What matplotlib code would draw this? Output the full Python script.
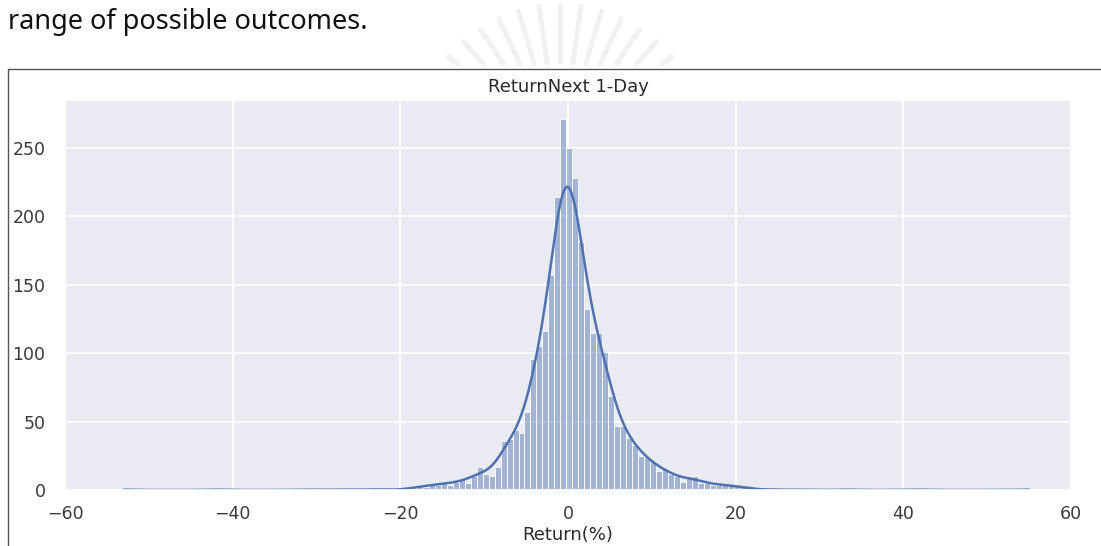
import numpy as np
import matplotlib
matplotlib.use("Agg")
import matplotlib.pyplot as plt
import seaborn as sns
from matplotlib.lines import Line2D

# histogram: counts per bin, bins 0.714 wide
bin_width = 0.714
first_edge = -19.47
counts = [1, 1, 4, 2, 4, 4, 5, 4, 6, 8, 5, 10, 17, 12, 10, 17, 36, 37, 44, 42,
          57, 96, 105, 116, 157, 214, 271, 250, 228, 181, 132, 115, 115, 101, 69,
          47, 47, 38, 33, 25, 24, 21, 14, 16, 12, 10, 6, 10, 10, 5, 5, 4, 4, 4,
          3, 3, 2, 1, 1]
# single far-out observations (only visible through the kde tail)
tail_returns = [-53.0, -41.6, -31.2, -27.4, -24.1, -22.3, 24.6, 27.9, 33.5, 41.2, 55.0]

x_ticks = [-60, -40, -20, 0, 20, 40, 60]
y_ticks = [0, 50, 100, 150, 200, 250]

sns.set_theme(style="darkgrid")

centers = first_edge + bin_width * (np.arange(len(counts)) + 0.5)
samples = np.concatenate([np.repeat(centers, counts), tail_returns])
k_lo = int(np.floor((min(tail_returns) - first_edge) / bin_width))
k_hi = int(np.ceil((max(tail_returns) - first_edge) / bin_width))
edges = first_edge + bin_width * np.arange(k_lo, k_hi + 1)

W, H = 1101, 546
fig = plt.figure(figsize=(W / 100, H / 100), dpi=100)
fig.patch.set_facecolor("white")

# faint watermark behind the page text, kept above the chart frame
for ang in np.linspace(40, 140, 13):
    a = np.deg2rad(ang)
    r0 = max(88, (150 - 64) / np.sin(a))
    x0, y0 = 560 + r0 * np.cos(a), 150 - r0 * np.sin(a)
    x1, y1 = 560 + 145 * np.cos(a), 150 - 145 * np.sin(a)
    fig.add_artist(Line2D([x0 / W, x1 / W], [1 - y0 / H, 1 - y1 / H],
                          color="#f1f1f1", linewidth=3.5, solid_capstyle="round",
                          transform=fig.transFigure, zorder=0))

# page text above the chart
fig.text(8 / W, 1 - 22 / H, "range of possible outcomes.", fontsize=19.5,
         family="Noto Sans", color="#111111", va="center", ha="left")

# frame of the pasted image (only top and left edges visible)
fig.add_artist(Line2D([8 / W, 1.0], [1 - 69 / H, 1 - 69 / H], color="#555555",
                      linewidth=1.0, transform=fig.transFigure))
fig.add_artist(Line2D([8 / W, 8 / W], [1 - 69 / H, 0.0], color="#555555",
                      linewidth=1.0, transform=fig.transFigure))

ax = fig.add_axes([65 / W, 56 / H, 1006 / W, 390 / H])
sns.histplot(samples, bins=edges, kde=True, ax=ax, color="#4C72B0", alpha=0.45,
             edgecolor="white", linewidth=0.6,
             kde_kws={"bw_adjust": 1.1, "gridsize": 1200},
             line_kws={"linewidth": 1.8})

ax.set_xlim(-60, 60)
ax.set_ylim(0, 285)
ax.set_xticks(x_ticks)
ax.set_yticks(y_ticks)
ax.tick_params(axis="x", labelsize=12.5, pad=5, colors="#3a3a3a")
ax.tick_params(axis="y", labelsize=12.5, pad=8, colors="#3a3a3a")
ax.grid(color="white", linewidth=1.3)
ax.set_ylabel("")
ax.set_xlabel("Return(%)", fontsize=13, color="#2a2a2a", labelpad=2)
ax.set_title("ReturnNext 1-Day", fontsize=13, color="#2a2a2a", pad=6)

fig.savefig("out.png", dpi=100, facecolor="white")
